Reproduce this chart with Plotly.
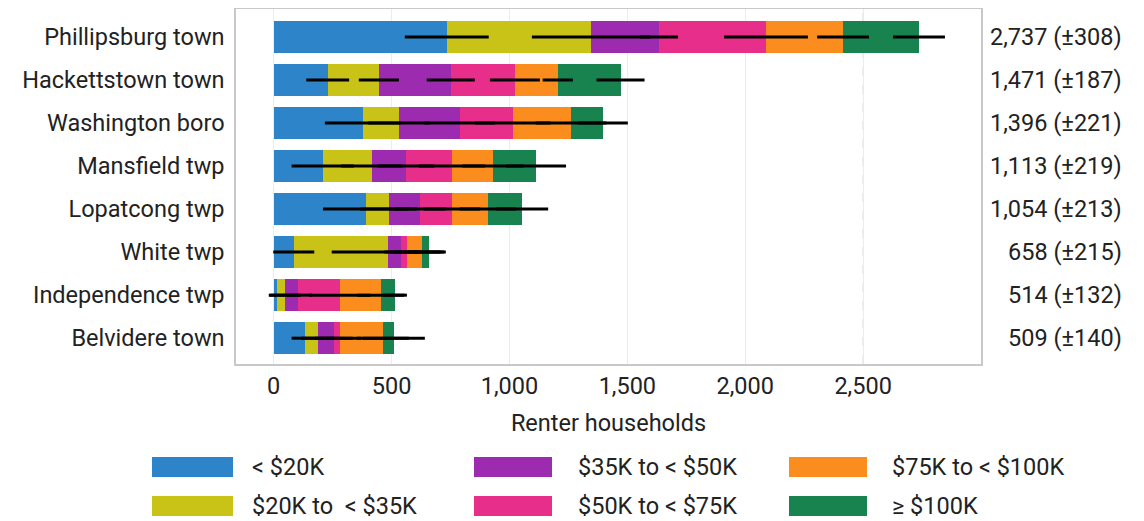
import plotly.graph_objects as go
from itertools import accumulate

towns = ["Phillipsburg town", "Hackettstown town", "Washington boro", "Mansfield twp",
         "Lopatcong twp", "White twp", "Independence twp", "Belvidere town"]
categories = ["< $20K", "$20K to  < $35K", "$35K to < $50K", "$50K to < $75K",
              "$75K to < $100K", "≥ $100K"]
colors = ["#2D84C8", "#C9C318", "#9C2BB0", "#E62E8A", "#FB8C1E", "#18834F"]

# values per category (in town order)
lt20k = [734, 229, 378, 208, 391, 85, 13, 131]
k20_35 = [611, 217, 153, 208, 97, 399, 34, 56]
k35_50 = [289, 305, 258, 144, 132, 55, 55, 68]
k50_75 = [454, 272, 225, 196, 136, 26, 178, 25]
k75_100 = [327, 182, 247, 174, 152, 63, 174, 183]
ge100k = [322, 266, 135, 183, 146, 30, 60, 46]

# margins of error per category
moe_lt20k = [178, 91, 161, 132, 182, 87, 30, 55]
moe_20_35 = [250, 85, 130, 130, 120, 238, 68, 70]
moe_35_50 = [81, 102, 150, 120, 110, 70, 60, 80]
moe_50_75 = [178, 106, 160, 140, 120, 60, 130, 90]
moe_75_100 = [110, 64, 150, 130, 120, 80, 100, 110]
moe_ge100k = [110, 102, 106, 127, 110, 72, 51, 132]

totals = [2737, 1471, 1396, 1113, 1054, 658, 514, 509]
totals_moe = [308, 187, 221, 219, 213, 215, 132, 140]

x_ticks = [0, 500, 1000, 1500, 2000, 2500]
dashed_grid = 2500

series = [lt20k, k20_35, k35_50, k50_75, k75_100, ge100k]
moes = [moe_lt20k, moe_20_35, moe_35_50, moe_50_75, moe_75_100, moe_ge100k]

FONT = "Roboto"
TXT = "#222222"
FS = 23.5

fig = go.Figure()
for cat, col, vals in zip(categories, colors, series):
    fig.add_trace(go.Bar(
        y=towns, x=vals, name=cat, orientation="h",
        marker=dict(color=col, line=dict(width=0)),
        showlegend=False,
    ))

# error bars drawn on top, at the end of each stacked segment
cum_by_town = [list(accumulate(vals)) for vals in zip(*series)]
for k, (cat, err) in enumerate(zip(categories, moes)):
    fig.add_trace(go.Scatter(
        y=towns, x=[c[k] for c in cum_by_town], mode="markers",
        marker=dict(size=1, color="rgba(0,0,0,0)"),
        error_x=dict(type="data", array=err, visible=True, color="black",
                     thickness=3, width=0),
        showlegend=False, hoverinfo="skip",
    ))

OFF = 8  # page body margin
W, H = 1144 - OFF, 521 - OFF
L, R, T, B = 236, 981, 9, 364

def px(xp):
    return (xp - L) / (R - L)

def py(yp):
    return (B - yp) / (B - T)

# total labels on the right
for town, tot, m in zip(towns, totals, totals_moe):
    fig.add_annotation(x=px(1124), xref="paper", y=town, yref="y",
                       text=f"{tot:,} (±{m})", showarrow=False, xanchor="right",
                       font=dict(family=FONT, size=FS, color=TXT))

# manual legend (column-major, 3 columns x 2 rows)
col_x = [(152, 233, 250), (474, 552, 576), (789, 867, 890)]
row_y = [(457, 477), (496, 516)]
for i, (cat, col) in enumerate(zip(categories, colors)):
    c, r = divmod(i, 2)
    x0, x1, tx = col_x[c]
    y0, y1 = row_y[r]
    fig.add_shape(type="rect", xref="paper", yref="paper",
                  x0=px(x0), x1=px(x1), y0=py(y1), y1=py(y0),
                  fillcolor=col, line=dict(width=0))
    fig.add_annotation(x=px(tx), y=py((y0 + y1) / 2), xref="paper", yref="paper",
                       text=cat, showarrow=False, xanchor="left", yanchor="middle",
                       font=dict(family=FONT, size=FS, color=TXT))

fig.add_shape(type="line", xref="x", yref="paper", x0=dashed_grid, x1=dashed_grid,
              y0=0, y1=1, line=dict(color="#cfcfcf", width=1, dash="dash"), layer="below")

fig.update_layout(
    width=W, height=H,
    margin=dict(l=L - OFF, r=1144 - R, t=T - OFF, b=521 - B, autoexpand=False),
    barmode="stack", bargap=0.256,
    plot_bgcolor="white", paper_bgcolor="white",
    font=dict(family=FONT, size=FS, color=TXT),
    xaxis=dict(range=[-160, 3000], tickvals=x_ticks[:-1] + [dashed_grid],
               tickformat=",", showgrid=True, gridcolor="#ececec", gridwidth=1,
               zeroline=False, showline=True, mirror=True, linecolor="#c8c8c8",
               linewidth=1.5, ticks="", tickfont=dict(size=FS), automargin=False,
               title=dict(text="Renter households", font=dict(size=FS), standoff=16)),
    yaxis=dict(categoryorder="array", categoryarray=towns,
               range=[len(towns) - 1 + 0.6, -0.65],
               showgrid=False, showline=True, mirror=True, linecolor="#c8c8c8",
               linewidth=1.5, ticks="", ticklabelstandoff=5, automargin=False,
               tickfont=dict(size=FS)),
)

fig.write_html("out.html")
